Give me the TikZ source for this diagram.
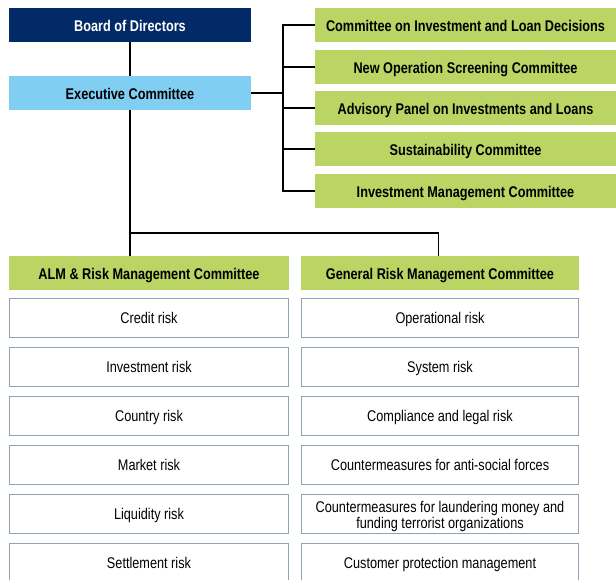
\documentclass[tikz,border=0pt]{standalone}
\usepackage{fontspec}
\setmainfont{Liberation Sans}[FakeStretch=0.82]
\definecolor{navy}{HTML}{012A66}
\definecolor{skyb}{HTML}{80CFF2}
\definecolor{lgreen}{HTML}{BAD563}
\definecolor{bgray}{HTML}{8FA3B3}
\begin{document}
\begin{tikzpicture}[x=1pt,y=-1pt,
  boldtxt/.style={font=\bfseries\fontsize{15.5}{16}\selectfont,text height=13pt,text depth=0pt},
  topbox/.style={boldtxt,minimum width=242pt,minimum height=34pt,inner sep=0pt},
  greenbox/.style={boldtxt,fill=lgreen,minimum width=301pt,minimum height=34pt,inner sep=0pt},
  headL/.style={boldtxt,fill=lgreen,minimum width=280pt,minimum height=34pt,inner sep=0pt},
  headR/.style={boldtxt,fill=lgreen,minimum width=278pt,minimum height=34pt,inner sep=0pt},
  riskbase/.style={draw=bgray,line width=1.2pt,fill=white,minimum height=39pt,inner sep=0pt,align=center,font=\fontsize{15.5}{16}\selectfont,text height=12pt,text depth=1pt},
  riskL/.style={riskbase,minimum width=279pt},
  riskR/.style={riskbase,minimum width=277pt},
  conn/.style={line width=1.8pt,black}]
\useasboundingbox (0,0) rectangle (616,580);
\clip (0,0) rectangle (616,580);
% top
\node[topbox,fill=navy,text=white] (board) at (130,25) {Board of Directors};
\node[topbox,fill=skyb] (exec) at (130,93) {Executive Committee};
% right committees
\node[greenbox] (g1) at (465.5,25) {Committee on Investment and Loan Decisions};
\node[greenbox] (g2) at (465.5,67) {New Operation Screening Committee};
\node[greenbox] (g3) at (465.5,108) {Advisory Panel on Investments and Loans};
\node[greenbox] (g4) at (465.5,149) {Sustainability Committee};
\node[greenbox] (g5) at (465.5,191) {Investment Management Committee};
% headers
\node[headL] (alm) at (149,273) {ALM \& Risk Management Committee};
\node[headR] (grm) at (440,273) {General Risk Management Committee};
% risks left
\node[riskL] (l1) at (149,318) {Credit risk};
\node[riskL] (l2) at (149,367) {Investment risk};
\node[riskL] (l3) at (149,416) {Country risk};
\node[riskL] (l4) at (149,465) {Market risk};
\node[riskL] (l5) at (149,514) {Liquidity risk};
\node[riskL] (l6) at (149,563) {Settlement risk};
% risks right
\node[riskR] (r1) at (440,318) {Operational risk};
\node[riskR] (r2) at (440,367) {System risk};
\node[riskR] (r3) at (440,416) {Compliance and legal risk};
\node[riskR] (r4) at (440,465) {Countermeasures for anti-social forces};
\node[riskbase,minimum width=277pt,text height=,text depth=] (r5) at (440,514) {};
\node[align=center,font=\fontsize{15.5}{16}\selectfont,inner sep=0pt] (r5t) at (440,516) {Countermeasures for laundering money and\\funding terrorist organizations};
\node[riskR] (r6) at (440,563) {Customer protection management};
% connectors
\coordinate (bus) at (283,93);
\coordinate (split) at (130,233);
\coordinate (rdrop) at (438.5,233);
\draw[conn] (board.south) -- (exec.north);
\draw[conn] (exec.east) -- (bus);
\draw[conn] (g1.west) -| (bus);
\draw[conn] (g5.west) -| (bus);
\foreach \g in {g2,g3,g4} \draw[conn] (\g.west) -- (\g.west -| bus);
\draw[conn] (exec.south) -- (split);
\draw[conn] (split) -- (alm.north -| split);
\draw[conn] (split) -- (rdrop) -- (grm.north -| rdrop);
\end{tikzpicture}
\end{document}
